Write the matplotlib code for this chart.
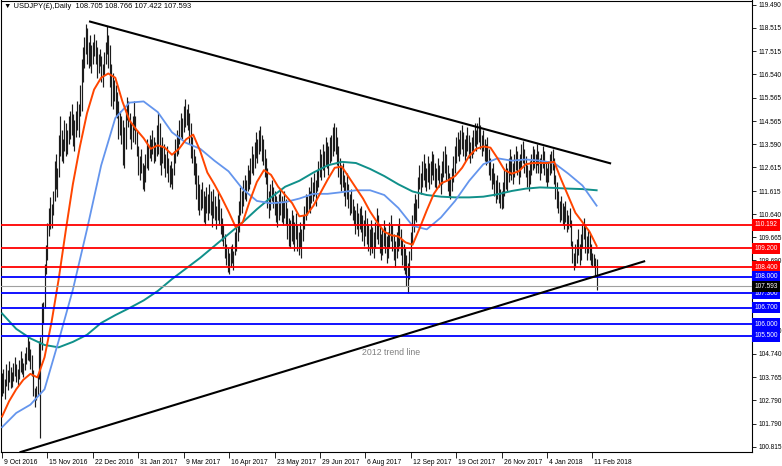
import numpy as np
import matplotlib
matplotlib.use('Agg')
import matplotlib.pyplot as plt
import matplotlib.transforms as mtransforms

plt.rcParams['font.family'] = ['Liberation Sans', 'DejaVu Sans']

# Cabecera del grafico (simbolo, periodo, OHLC de la ultima barra)
title = '\u25bc USDJPY(\u00a3),Daily  108.705 108.766 107.422 107.593'

# Barras diarias: maximos y minimos
highs = [
    103.95, 104.10, 103.70, 104.30, 104.05, 104.45, 104.20, 104.00, 104.35, 104.60,
    104.30, 104.10, 104.50, 104.85, 104.55, 104.35, 104.80, 105.05, 105.45, 105.30,
    104.95, 104.70, 104.05, 103.30, 103.40, 103.90, 105.30, 105.45, 106.90, 106.95,
    108.55, 109.35, 110.25, 110.90, 111.35, 111.05, 111.60, 112.90, 113.20, 112.60,
    114.00, 114.80, 114.20, 113.80, 114.60, 114.50, 114.20, 114.80, 115.00, 115.30,
    114.85, 114.60, 115.00, 115.40, 115.30, 116.10, 117.20, 117.70, 118.10, 118.66,
    118.50, 117.90, 118.20, 117.80, 117.90, 118.25, 118.00, 117.70, 117.40, 117.60,
    117.30, 117.00, 117.50, 117.90, 118.60, 118.20, 117.80, 117.00, 116.60, 116.30,
    116.10, 115.80, 115.40, 115.00, 114.80, 114.60, 114.30, 115.10, 115.60, 115.40,
    114.90, 114.50, 114.80, 115.40, 114.80, 114.20, 113.50, 113.10, 113.40, 112.80,
    112.70, 113.20, 113.80, 113.60, 114.00, 113.80, 114.20, 113.90, 113.70, 114.40,
    114.90, 114.50, 113.50, 113.90, 113.60, 113.20, 113.50, 113.00, 112.70, 112.90,
    112.60, 113.30, 113.80, 114.20, 114.00, 114.60, 114.90, 114.70, 115.20, 115.50,
    115.10, 115.30, 114.90, 114.50, 113.90, 113.40, 113.10, 112.80, 112.30, 111.90,
    111.70, 112.00, 111.60, 111.40, 111.80, 111.50, 111.90, 111.60, 111.20, 111.70,
    111.40, 111.00, 111.60, 111.30, 110.90, 110.50, 110.20, 109.80, 109.40, 109.20,
    109.00, 109.30, 109.40, 109.10, 109.90, 110.20, 110.60, 111.20, 111.80, 111.60,
    112.10, 112.30, 112.10, 112.70, 112.50, 113.00, 113.50, 113.20, 113.70, 114.10,
    113.80, 114.20, 114.37, 114.00, 113.80, 113.40, 113.00, 112.60, 111.60, 111.90,
    112.10, 111.80, 111.60, 111.40, 111.20, 111.50, 111.70, 111.40, 111.20, 111.60,
    111.30, 110.90, 110.50, 110.40, 110.80, 110.60, 110.30, 110.70, 110.20, 109.90,
    110.30, 110.00, 110.60, 111.00, 111.50, 111.40, 111.80, 111.60, 112.20, 112.00,
    112.40, 112.10, 112.50, 112.90, 113.40, 113.20, 113.60, 113.30, 113.90, 113.70,
    113.50, 113.90, 114.00, 114.30, 114.50, 114.30, 113.90, 113.50, 113.00, 112.70,
    112.80, 112.30, 112.00, 112.40, 111.90, 111.50, 111.70, 111.30, 111.00, 110.80,
    111.10, 110.70, 110.90, 111.00, 110.60, 110.40, 110.80, 110.50, 110.20, 110.00,
    110.40, 110.10, 109.90, 110.30, 110.90, 110.60, 110.20, 109.80, 110.00, 110.40,
    110.10, 109.70, 109.90, 110.30, 110.60, 110.20, 109.80, 109.50, 109.90, 110.20,
    110.50, 110.00, 109.60, 109.40, 109.20, 108.90, 108.60, 109.10, 109.90, 110.60,
    111.10, 111.50, 111.30, 112.20, 112.70, 112.40, 112.90, 113.20, 112.80, 112.60,
    113.10, 112.80, 112.90, 113.30, 113.20, 112.80, 112.60, 113.00, 112.70, 112.40,
    112.90, 113.30, 113.50, 113.20, 112.70, 112.40, 112.20, 112.60, 113.10, 113.50,
    113.90, 114.10, 113.80, 114.20, 114.40, 114.10, 113.80, 114.00, 114.30, 114.00,
    113.70, 113.90, 114.20, 114.50, 114.20, 114.50, 114.73, 114.40, 114.00, 114.20,
    113.80, 113.60, 113.90, 113.40, 113.00, 112.60, 112.80, 112.40, 112.10, 112.30,
    112.00, 111.70, 111.60, 112.00, 112.50, 112.80, 112.60, 113.00, 113.40, 113.10,
    112.80, 113.20, 113.50, 113.30, 112.90, 113.20, 113.60, 113.75, 113.40, 113.10,
    112.70, 112.50, 112.90, 113.20, 113.50, 113.40, 113.20, 113.60, 113.30, 113.00,
    113.20, 113.50, 113.30, 112.90, 112.60, 112.90, 113.20, 113.30, 113.40, 113.00,
    112.30, 112.00, 111.60, 111.20, 111.40, 111.10, 111.00, 111.20, 110.80, 110.60,
    110.90, 110.40, 109.50, 109.00, 109.40, 109.60, 110.00, 109.40, 109.80, 110.20,
    110.48, 110.20, 109.70, 110.00, 109.80, 109.40, 109.00, 108.95, 108.80, 108.77,
]
lows = [
    102.95, 103.10, 102.85, 103.40, 103.20, 103.55, 103.30, 103.35, 103.60, 103.80,
    103.55, 103.45, 103.70, 104.00, 103.90, 103.75, 104.05, 104.30, 104.50, 104.45,
    104.10, 103.80, 102.95, 102.50, 102.80, 103.00, 103.70, 101.20, 104.90, 106.00,
    106.70, 108.10, 108.70, 109.70, 110.00, 110.05, 110.60, 111.20, 111.70, 111.35,
    112.20, 113.10, 112.90, 112.80, 113.30, 113.10, 113.20, 113.60, 113.80, 114.00,
    113.50, 113.30, 113.90, 114.20, 113.90, 114.80, 115.00, 116.20, 116.80, 117.40,
    117.00, 116.80, 116.90, 116.60, 117.00, 117.30, 117.00, 116.40, 116.60, 116.90,
    116.20, 116.00, 116.50, 117.00, 117.40, 116.80, 116.00, 115.20, 115.10, 115.40,
    114.80, 114.70, 113.80, 114.00, 113.60, 112.70, 112.57, 113.40, 114.60, 114.30,
    113.80, 113.40, 113.70, 114.20, 113.60, 113.10, 112.30, 112.10, 112.40, 111.70,
    111.60, 112.00, 112.60, 112.50, 113.00, 112.90, 113.20, 112.80, 112.90, 113.10,
    113.20, 112.70, 112.30, 112.80, 112.60, 112.20, 112.40, 112.00, 111.80, 111.90,
    111.70, 112.30, 112.80, 113.10, 113.20, 113.60, 113.90, 113.80, 114.10, 114.30,
    114.40, 114.20, 113.60, 113.00, 112.80, 112.30, 111.90, 111.30, 110.80, 110.60,
    110.80, 110.90, 110.30, 110.20, 110.70, 110.40, 110.70, 110.60, 110.10, 110.50,
    110.40, 110.00, 110.40, 110.20, 109.80, 109.50, 109.30, 108.80, 108.50, 108.20,
    108.13, 108.40, 108.60, 108.30, 108.90, 109.10, 109.50, 109.90, 110.60, 110.70,
    111.00, 111.30, 111.20, 111.60, 111.70, 111.90, 112.40, 112.30, 112.60, 113.00,
    112.80, 113.20, 113.30, 112.90, 112.70, 112.20, 111.90, 110.90, 110.50, 110.80,
    111.20, 110.90, 110.60, 110.30, 110.10, 110.40, 110.60, 110.30, 110.20, 110.50,
    110.20, 109.60, 109.30, 109.20, 109.50, 109.40, 109.10, 109.60, 109.10, 108.90,
    109.20, 108.80, 109.50, 110.00, 110.40, 110.60, 110.80, 110.70, 111.10, 111.20,
    111.40, 111.00, 111.60, 111.80, 112.20, 112.10, 112.50, 112.20, 112.70, 112.60,
    112.30, 112.80, 112.90, 113.10, 113.30, 113.20, 112.70, 112.20, 111.90, 111.60,
    111.80, 111.40, 111.00, 111.30, 110.90, 110.60, 110.70, 110.40, 110.20, 109.80,
    110.00, 109.70, 110.00, 109.90, 109.50, 109.30, 109.70, 109.40, 109.10, 108.90,
    109.20, 109.00, 108.80, 109.20, 109.60, 109.40, 109.00, 108.70, 108.90, 109.30,
    109.00, 108.60, 108.80, 109.20, 109.50, 109.10, 108.70, 108.40, 108.80, 109.10,
    109.30, 108.90, 108.50, 108.30, 108.10, 107.60, 107.32, 107.90, 108.70, 109.40,
    109.90, 110.40, 110.30, 110.90, 111.70, 111.50, 111.80, 112.10, 111.80, 111.60,
    112.00, 111.70, 111.90, 112.30, 112.10, 111.80, 111.70, 112.10, 111.80, 111.50,
    111.90, 112.20, 112.40, 112.10, 111.60, 111.40, 111.30, 111.60, 112.00, 112.40,
    112.80, 113.10, 112.90, 113.20, 113.40, 113.10, 112.90, 113.10, 113.30, 113.00,
    112.80, 113.00, 113.20, 113.50, 113.30, 113.60, 113.70, 113.40, 113.10, 113.30,
    112.90, 112.70, 112.80, 112.30, 112.10, 111.70, 111.90, 111.40, 111.10, 111.30,
    111.10, 110.90, 110.84, 110.90, 111.40, 111.70, 111.60, 112.00, 112.30, 112.10,
    111.90, 112.20, 112.50, 112.30, 111.90, 112.20, 112.60, 112.80, 112.40, 112.20,
    111.80, 111.60, 111.90, 112.30, 112.50, 112.60, 112.40, 112.70, 112.40, 112.10,
    112.40, 112.60, 112.30, 112.00, 111.80, 112.00, 112.30, 112.40, 112.50, 111.90,
    111.30, 110.90, 110.70, 110.30, 110.40, 110.20, 110.00, 110.30, 109.90, 110.00,
    110.10, 109.30, 108.60, 108.28, 108.40, 108.60, 108.90, 108.50, 108.70, 109.20,
    109.60, 109.00, 108.70, 109.00, 108.70, 108.50, 108.40, 108.40, 108.05, 107.42,
]

# Medias moviles (valores muestreados a lo largo de todas las barras)
red_ma = [
    102.10, 102.75, 103.25, 103.65, 103.90, 103.75, 104.60, 106.10, 107.90, 109.95,
    111.90, 113.50, 114.90, 115.90, 116.40, 116.58, 116.40, 115.40, 114.60, 114.20,
    113.85, 113.40, 113.55, 113.45, 113.15, 113.40, 113.80, 114.00, 113.30, 112.40,
    111.90, 111.35, 110.75, 110.10, 110.30, 111.20, 112.00, 112.50, 112.30, 111.80,
    111.45, 111.10, 110.55, 110.60, 111.00, 111.55, 112.10, 112.60, 112.65, 112.20,
    111.75, 111.30, 110.75, 110.30, 109.90, 109.75, 109.70, 109.45, 109.35, 110.05,
    110.80, 111.50, 111.94, 112.07, 112.25, 112.60, 113.10, 113.40, 113.50, 113.45,
    113.00, 112.50, 112.35, 112.45, 112.75, 112.80, 112.80, 112.80, 112.85, 112.10,
    111.40, 110.70, 110.30, 109.90, 109.30,
]
blue_ma = [
    101.65, 102.25, 102.60, 103.25, 105.30, 107.45, 110.00, 112.70, 114.70, 115.35,
    115.40, 114.95, 114.10, 113.65, 113.40, 112.90, 112.45, 111.70, 111.20, 111.10,
    111.15, 111.30, 111.50, 111.50, 111.57, 111.65, 111.65, 111.45, 110.90, 110.15,
    110.00, 110.50, 111.20, 112.05, 112.75, 113.00, 112.90, 112.95, 112.90, 112.80,
    112.35, 111.85, 111.00,
]
teal_ma = [
    106.45, 105.80, 105.40, 105.12, 105.02, 105.25, 105.55, 106.05, 106.38, 106.68,
    107.00, 107.40, 107.90, 108.35, 108.80, 109.30, 109.80, 110.30, 110.85, 111.35,
    111.80, 112.05, 112.40, 112.70, 112.85, 112.80, 112.55, 112.25, 111.90, 111.60,
    111.45, 111.38, 111.35, 111.35, 111.38, 111.48, 111.62, 111.72, 111.77, 111.75,
    111.72, 111.70, 111.65,
]

# Lineas de tendencia (barra, precio)
upper_trend_bar = [62, 428.5]
upper_trend_price = [118.77, 112.79]
lower_trend_bar = [13, 452.5]
lower_trend_price = [100.60, 108.65]

# Niveles horizontales
red_levels = [110.192, 109.200, 108.400]
blue_levels = [108.000, 107.300, 106.700, 106.000, 105.500]
last_price = 107.593

date_labels = ['9 Oct 2016', '15 Nov 2016', '22 Dec 2016', '31 Jan 2017', '9 Mar 2017',
               '16 Apr 2017', '23 May 2017', '29 Jun 2017', '6 Aug 2017', '12 Sep 2017',
               '19 Oct 2017', '26 Nov 2017', '4 Jan 2018', '11 Feb 2018']
bars_per_label = 32
# las marcas 107.715 y 106.740 quedan tapadas por las etiquetas de nivel
price_ticks = [119.490, 118.515, 117.515, 116.540, 115.565, 114.565, 113.590, 112.615,
               111.615, 110.640, 109.665, 108.690, 105.740, 104.740,
               103.765, 102.790, 101.790, 100.815]

n = len(highs)
x = np.arange(n)

fig = plt.figure(figsize=(7.82, 4.66), dpi=100)
ax = fig.add_axes([0.5 / 782, 14 / 466, 751.5 / 782, 451.5 / 466])

# Barras
ax.vlines(x, lows, highs, color='#1c1c1c', lw=0.85, zorder=2)

# Medias moviles
ax.plot(np.linspace(0, n - 1, len(teal_ma)), teal_ma, color='#10908a', lw=1.4, zorder=3)
ax.plot(np.linspace(0, n - 1, len(blue_ma)), blue_ma, color='#6495ed', lw=1.3, zorder=3)
ax.plot(np.linspace(0, n - 1, len(red_ma)), red_ma, color='#ff4500', lw=1.4, zorder=3)

# Niveles
for lv in red_levels:
    ax.axhline(lv, color='#ff0000', lw=1.3, zorder=4)
for lv in blue_levels:
    ax.axhline(lv, color='#0000ff', lw=1.3, zorder=4)
ax.axhline(last_price, color='#a0a0a0', lw=0.8, zorder=4)

# Tendencias
ax.plot(upper_trend_bar, upper_trend_price, color='black', lw=1.5, zorder=5)
ax.plot(lower_trend_bar, lower_trend_price, color='black', lw=1.5, zorder=5)
ax.text(274, 104.82, '2012 trend line', color='#808080', fontsize=6.3,
        ha='center', va='center', zorder=5)

ax.set_xlim(-1.1, 528.5)
ax.set_ylim(100.603, 119.66)

# Eje X
ax.set_xticks(np.arange(len(date_labels)) * bars_per_label)
ax.set_xticklabels(date_labels)
ax.tick_params(axis='x', direction='out', length=4, width=0.6, pad=1, labelsize=4.9)
offset = mtransforms.ScaledTranslation(2 / 100, 0, fig.dpi_scale_trans)
for lbl in ax.get_xticklabels():
    lbl.set_ha('left')
    lbl.set_transform(lbl.get_transform() + offset)

# Eje Y a la derecha
ax.yaxis.tick_right()
ax.set_yticks(price_ticks)
ax.set_yticklabels([f'{t:.3f}' for t in price_ticks])
ax.tick_params(axis='y', direction='out', length=3, width=0.6, pad=1.5, labelsize=4.7)

for sp in ax.spines.values():
    sp.set_linewidth(0.8)
    sp.set_color('black')

# Etiquetas de precio en el eje
trans = mtransforms.blended_transform_factory(ax.transAxes, ax.transData)
boxes = [(lv, '#ff0000') for lv in red_levels] + [(lv, '#0000ff') for lv in blue_levels]
boxes.append((last_price, '#000000'))
for lv, col in boxes:
    ax.text(1.0035, lv, f'{lv:.3f}', transform=trans, ha='left', va='center',
            color='white', fontsize=4.7, clip_on=False, zorder=10,
            bbox=dict(boxstyle='square,pad=0.35', fc=col, ec='none'))

fig.text(4 / 782, 1 - 6 / 466, title, fontsize=5.4, ha='left', va='center')

fig.savefig('out.png', dpi=100)
